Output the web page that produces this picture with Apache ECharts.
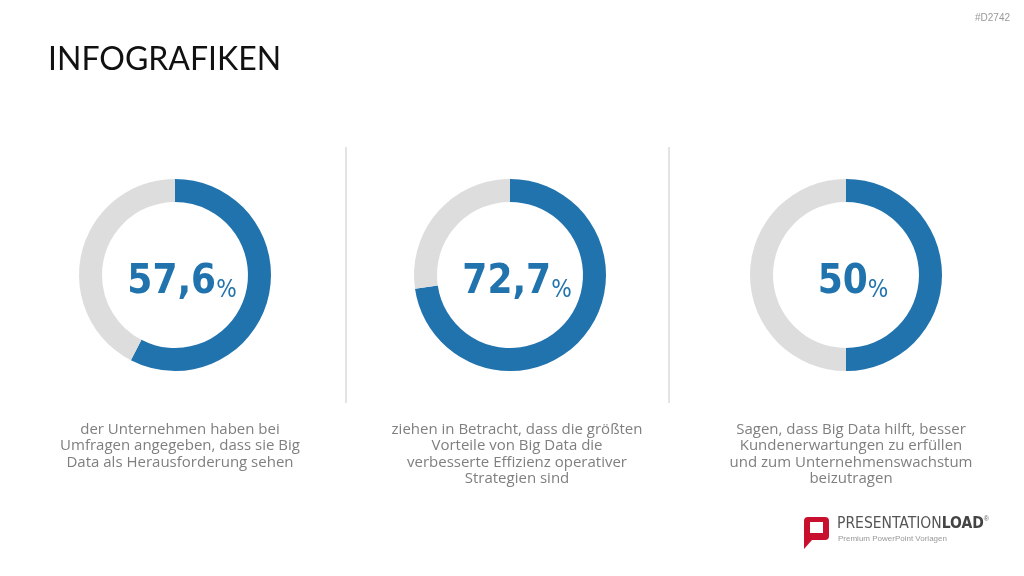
<!DOCTYPE html>
<html>
<head>
<meta charset="utf-8">
<script src="https://cdn.jsdelivr.net/npm/echarts@6/dist/echarts.min.js"></script>
<style>
html,body{margin:0;padding:0;background:#fff;}
#chart{width:1024px;height:576px;}
</style>
</head>
<body>
<div id="chart"></div>
<script>
// Werte der drei Ringe
var percentValues = [57.6, 72.7, 50];
var percentLabels = ['57,6', '72,7', '50'];
var descriptions = [
	'der Unternehmen haben bei\nUmfragen angegeben, dass sie Big\nData als Herausforderung sehen',
	'ziehen in Betracht, dass die größten\nVorteile von Big Data die\nverbesserte Effizienz operativer\nStrategien sind',
	'Sagen, dass Big Data hilft, besser\nKundenerwartungen zu erfüllen\nund zum Unternehmenswachstum\nbeizutragen'
];
var centersX = [175, 510, 846];

var blue = '#2173ae';
var grey = '#dddddd';
var numFont = "'DejaVu Sans Condensed', 'Roboto'";

var myChart = echarts.init(document.getElementById('chart'));

var series = [];
var titles = [{
	text: 'INFOGRAFIKEN',
	left: 43,
	top: 39,
	textStyle: {fontFamily: 'Lato', fontWeight: 'normal', fontSize: 32, color: '#111'}
}, {
	text: '#D2742',
	right: 9,
	top: 8,
	textStyle: {fontFamily: 'Liberation Sans', fontWeight: 'normal', fontSize: 10, color: '#999'}
}];

for (var i = 0; i < percentValues.length; i++) {
	series.push({
		type: 'pie',
		center: [centersX[i], 275],
		radius: [73, 96],
		startAngle: 90,
		clockwise: true,
		silent: true,
		label: {show: false},
		labelLine: {show: false},
		data: [
			{value: percentValues[i], itemStyle: {color: blue}},
			{value: 100 - percentValues[i], itemStyle: {color: grey}}
		]
	});
	titles.push({
		text: '{n|' + percentLabels[i] + '}{p|%}',
		left: centersX[i] + 2,
		top: 258,
		textAlign: 'center',
		textStyle: {
			rich: {
				n: {fontFamily: numFont, fontWeight: 'bold', fontSize: 40, color: blue, verticalAlign: 'bottom'},
				p: {fontFamily: numFont, fontWeight: 'normal', fontSize: 24, color: blue, verticalAlign: 'bottom'}
			}
		}
	});
	titles.push({
		text: descriptions[i],
		left: centersX[i] + (i === 1 ? 2 : 0),
		top: 416,
		textAlign: 'center',
		textStyle: {fontFamily: 'Open Sans', fontWeight: 'normal', fontSize: 15, lineHeight: 16.5, color: '#7f7f7f'}
	});
}

option = {
	backgroundColor: '#ffffff',
	animation: false,
	title: titles,
	series: series,
	graphic: [
		{type: 'line', shape: {x1: 346, y1: 147, x2: 346, y2: 403}, style: {stroke: '#c8c8c8', lineWidth: 1}},
		{type: 'line', shape: {x1: 669, y1: 147, x2: 669, y2: 403}, style: {stroke: '#c8c8c8', lineWidth: 1}},
		// Logo
		{type: 'rect', shape: {x: 804, y: 517, width: 25, height: 23, r: 4}, style: {fill: '#c8102e'}},
		{type: 'polygon', shape: {points: [[804, 535], [812, 540], [804, 549]]}, style: {fill: '#c8102e'}},
		{type: 'rect', shape: {x: 810, y: 522, width: 13, height: 11}, style: {fill: '#fff'}},
		{type: 'text', left: 837, top: 516, style: {text: '{a|PRESENTATION}{b|LOAD}{c|®}', rich: {
			a: {fontFamily: numFont, fontSize: 15.5, fill: '#555'},
			b: {fontFamily: numFont, fontWeight: 'bold', fontSize: 15.5, fill: '#444'},
			c: {fontFamily: 'Liberation Sans', fontSize: 7, fill: '#666', verticalAlign: 'top'}
		}}},
		{type: 'text', left: 838, top: 535, style: {text: 'Premium PowerPoint Vorlagen', fontFamily: 'Liberation Sans', fontSize: 8, fill: '#999'}}
	]
};
myChart.setOption(option);
</script>
</body>
</html>
